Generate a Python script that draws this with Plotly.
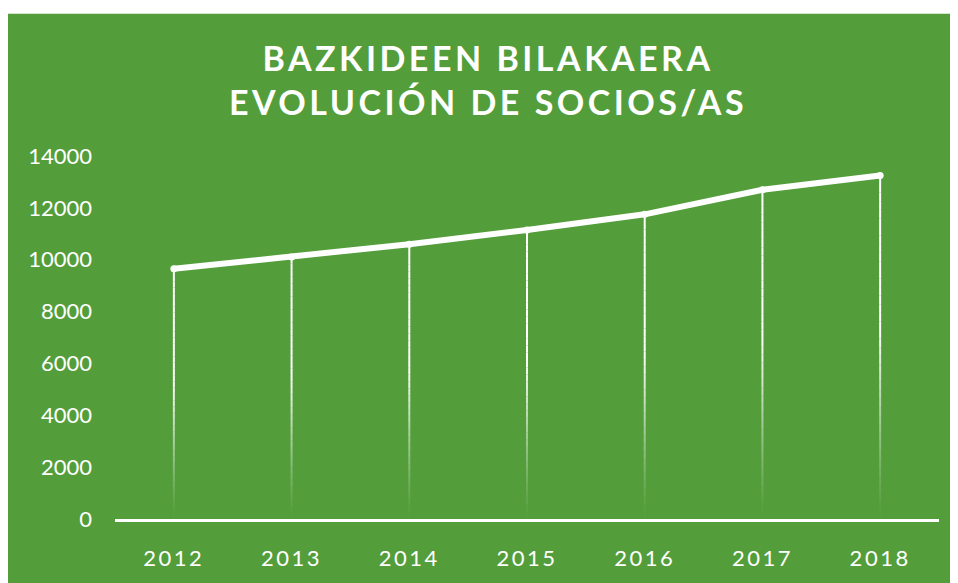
import plotly.graph_objects as go

years = ["2012", "2013", "2014", "2015", "2016", "2017", "2018"]
socios = [9650, 10100, 10600, 11150, 11750, 12700, 13250]
y_ticks = [0, 2000, 4000, 6000, 8000, 10000, 12000, 14000]
title_lines = ["BAZKIDEEN BILAKAERA", "EVOLUCIÓN DE SOCIOS/AS"]

GREEN = "rgb(83,158,59)"
W, H = 950, 575
ML, MR, MT, MB = 107, 19, 148, 57

fig = go.Figure()

# fading drop lines (white at top, transparent at bottom)
N = 40
for k in range(N):
    xs, ys = [], []
    for yr, v in zip(years, socios):
        xs += [yr, yr, None]
        ys += [v * k / N, v * (k + 1) / N, None]
    frac = (k + 0.5) / N
    alpha = min(1.0, frac / 0.55) ** 1.2
    fig.add_trace(go.Scatter(
        x=xs, y=ys, mode="lines",
        line=dict(color=f"rgba(255,255,255,{alpha:.3f})", width=2),
        hoverinfo="skip", showlegend=False,
    ))

fig.add_trace(go.Scatter(
    x=years, y=socios, mode="lines+markers",
    line=dict(color="white", width=6),
    marker=dict(color="white", size=7),
    hoverinfo="skip", showlegend=False,
))

pw = W - ML - MR
ph = H - MT - MB
# thin white strip at the very top
fig.add_shape(
    type="rect", xref="paper", yref="paper", layer="below",
    x0=-ML / pw - 0.05, x1=1 + MR / pw + 0.05,
    y0=(H - 3 - MB) / ph, y1=(H + 5 - MB) / ph,
    fillcolor="white", line=dict(width=0),
)

title_text = "<br>".join(
    f'<span style="letter-spacing:3.5px">{t}</span>' for t in title_lines
)

fig.update_layout(
    width=W, height=H,
    margin=dict(l=ML, r=MR, t=MT, b=MB),
    paper_bgcolor=GREEN, plot_bgcolor=GREEN,
    title=dict(
        text=title_text, x=480 / W, xanchor="center",
        y=1 - 63 / H, yanchor="middle",
        font=dict(family="Lato", size=34, color="white", weight="bold"),
    ),
    xaxis=dict(
        type="category", range=[-0.5, 6.5],
        tickvals=years,
        ticktext=[f'<span style="letter-spacing:2.5px">{y}</span>' for y in years],
        showgrid=False, zeroline=False,
        showline=True, linecolor="white", linewidth=3,
        ticks="", ticklabelstandoff=18,
        tickfont=dict(family="Lato", size=22, color="white"),
    ),
    yaxis=dict(
        range=[0, 14000], tickvals=y_ticks,
        ticktext=[str(v) for v in y_ticks],
        showgrid=False, zeroline=False, showline=False,
        ticks="", ticklabelstandoff=22,
        tickfont=dict(family="Lato", size=22, color="white"),
    ),
)

fig.write_html("out.html")
